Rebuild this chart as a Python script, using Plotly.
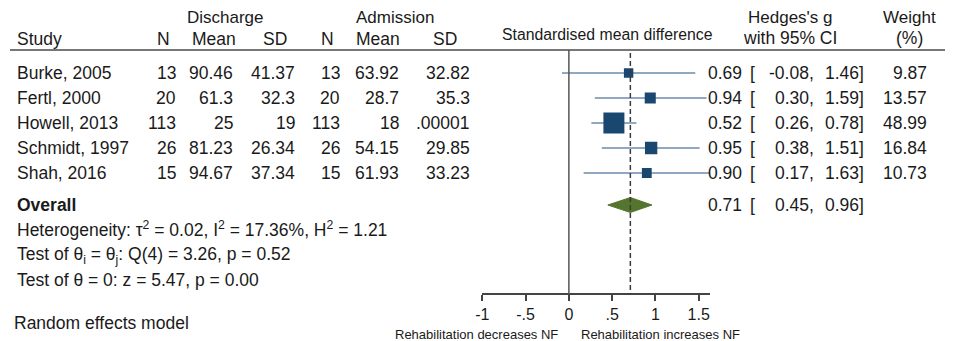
import plotly.graph_objects as go
import math

studies = ["Burke, 2005", "Fertl, 2000", "Howell, 2013", "Schmidt, 1997", "Shah, 2016"]
dis_n = ["13", "20", "113", "26", "15"]
dis_mean = ["90.46", "61.3", "25", "81.23", "94.67"]
dis_sd = ["41.37", "32.3", "19", "26.34", "37.34"]
adm_n = ["13", "20", "113", "26", "15"]
adm_mean = ["63.92", "28.7", "18", "54.15", "61.93"]
adm_sd = ["32.82", "35.3", ".00001", "29.85", "33.23"]
g = [0.69, 0.94, 0.52, 0.95, 0.90]
lo = [-0.08, 0.30, 0.26, 0.38, 0.17]
hi = [1.46, 1.59, 0.78, 1.51, 1.63]
weight = [9.87, 13.57, 48.99, 16.84, 10.73]
overall_g, overall_lo, overall_hi = 0.71, 0.45, 0.96
tick_vals = [-1, -0.5, 0, 0.5, 1, 1.5]
tick_text = ["-1", "-.5", "0", ".5", "1", "1.5"]

# page body adds an 8px margin: build the figure so that screen pixels match
OFF = 8
SW, SH = 953, 341
W, H = SW - OFF, SH - OFF
FONT = "Arial, Liberation Sans, sans-serif"
TXT = "#1a1a1a"
FS = 17.5


def row_of(p):
    # screen pixel (vertical) -> row units; row i at screen pixel 73 + 25*i
    return (p - 73) / 25.0


def px(xp):
    # screen pixel (horizontal) -> paper fraction
    return (xp - OFF) / W


fig = go.Figure()

for i in range(len(studies)):
    fig.add_trace(go.Scatter(x=[lo[i], hi[i]], y=[i, i], mode="lines",
                             line=dict(color="#6b8cad", width=1.5),
                             hoverinfo="skip", showlegend=False))
fig.add_trace(go.Scatter(x=g, y=list(range(len(studies))), mode="markers",
                         marker=dict(symbol="square", color="#1a476f", opacity=1,
                                     size=[3.0 * math.sqrt(w) for w in weight],
                                     line=dict(width=0)),
                         showlegend=False, hoverinfo="skip"))
yo = row_of(205)
fig.add_trace(go.Scatter(x=[overall_lo, overall_g, overall_hi, overall_g, overall_lo],
                         y=[yo, yo - 0.3, yo, yo + 0.3, yo], mode="lines",
                         fill="toself", fillcolor="#55752f",
                         line=dict(color="#55752f", width=1),
                         showlegend=False, hoverinfo="skip"))

shapes = [
    dict(type="line", xref="paper", yref="y", x0=px(10), x1=px(952),
         y0=row_of(50), y1=row_of(50), line=dict(color="#4a4a4a", width=1.6)),
    dict(type="line", xref="x", yref="y", x0=0, x1=0,
         y0=row_of(50), y1=row_of(294), line=dict(color="#555555", width=1.5)),
    dict(type="line", xref="x", yref="y", x0=overall_g, x1=overall_g,
         y0=row_of(53), y1=row_of(294), line=dict(color="#3a3a3a", width=1.5, dash="5px,3px")),
]

ann = []


def add(text, xp, yp, anchor="left", size=FS, bold=False, color=TXT):
    ann.append(dict(text=("<b>%s</b>" % text) if bold else text, x=px(xp), y=row_of(yp),
                    xref="paper", yref="y", xanchor=anchor, yanchor="middle",
                    showarrow=False, font=dict(family=FONT, size=size, color=color)))


add("Discharge", 225, 17, "center", size=17)
add("Admission", 395, 17, "center", size=17)
add("Study", 15, 39)
add("N", 172, 39, "right")
add("Mean", 238, 39, "right")
add("SD", 289, 39, "right")
add("N", 336, 39, "right")
add("Mean", 402, 39, "right")
add("SD", 459, 39, "right")
add("Standardised mean difference", 607, 34, "center", size=15.8)
add("Hedges's g", 790, 17, "center", size=17)
add("with 95% CI", 790, 38, "center")
add("Weight", 909, 17, "center", size=17)
add("(%)", 909, 38, "center")

for i in range(len(studies)):
    yp = 73 + 25 * i
    add(studies[i], 15, yp)
    add(dis_n[i], 178, yp, "right")
    add(dis_mean[i], 235, yp, "right")
    add(dis_sd[i], 297, yp, "right")
    add(adm_n[i], 342, yp, "right")
    add(adm_mean[i], 401, yp, "right")
    add(adm_sd[i], 472, yp, "right")
    add("%.2f" % g[i], 744, yp, "right")
    add("[", 748, yp)
    add("%.2f," % lo[i], 816, yp, "right")
    add("%.2f]" % hi[i], 866, yp, "right")
    add("%.2f" % weight[i], 929, yp, "right")

add("Overall", 15, 205, bold=True)
add("%.2f" % overall_g, 744, 205, "right")
add("[", 748, 205)
add("%.2f," % overall_lo, 816, 205, "right")
add("%.2f]" % overall_hi, 866, 205, "right")

add("Heterogeneity: τ<sup>2</sup> = 0.02, I<sup>2</sup> = 17.36%, H<sup>2</sup> = 1.21", 15, 229)
add("Test of θ<sub>i</sub> = θ<sub>j</sub>: Q(4) = 3.26, p = 0.52", 15, 255)
add("Test of θ = 0: z = 5.47, p = 0.00", 15, 280)
add("Random effects model", 12, 323)
add("Rehabilitation decreases NF", 476, 334, "center", size=13)
add("Rehabilitation increases NF", 660, 334, "center", size=13)

fig.update_layout(
    width=W, height=H, margin=dict(l=0, r=0, t=0, b=0, autoexpand=False),
    paper_bgcolor="white", plot_bgcolor="white",
    shapes=shapes, annotations=ann, showlegend=False,
    xaxis=dict(domain=[px(482.3), px(710)], range=[-1, 1.63], anchor="free",
               position=(SH - 294) / H, showline=True, linecolor="#444444", linewidth=1.5,
               ticks="outside", ticklen=6, tickwidth=1.5, tickcolor="#444444",
               tickvals=tick_vals, ticktext=tick_text, showgrid=False, zeroline=False,
               tickfont=dict(family=FONT, size=16, color=TXT), fixedrange=True),
    yaxis=dict(domain=[0, 1], range=[row_of(SH), row_of(OFF)], visible=False,
               showgrid=False, zeroline=False, fixedrange=True),
)

fig.write_html("out.html")
